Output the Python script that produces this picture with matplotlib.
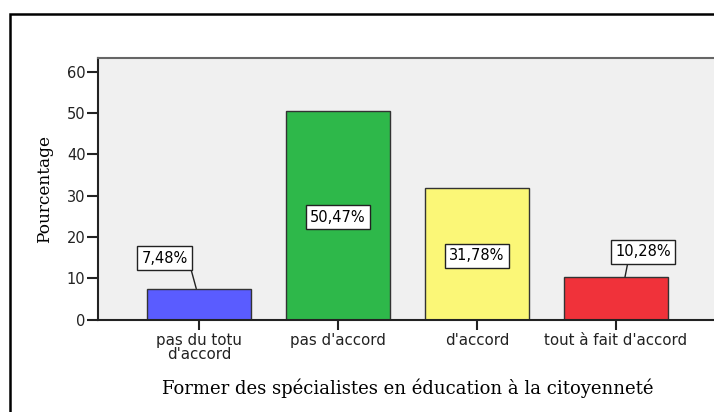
import matplotlib.pyplot as plt
from matplotlib.patches import Rectangle

categories = ["pas du totu\nd'accord", "pas d'accord", "d'accord", "tout à fait d'accord"]
values = [7.48, 50.47, 31.78, 10.28]
labels = ["7,48%", "50,47%", "31,78%", "10,28%"]
colors = ["#5a5cff", "#2eb84a", "#fbf777", "#f0323a"]

W, H = 714, 412
fig = plt.figure(figsize=(W / 100, H / 100), dpi=100)
fig.patch.set_facecolor("white")

# outer frame (runs off the right and bottom edges)
fig.patches.append(Rectangle((10 / W, -0.05), 1.2, (H - 14) / H + 0.05,
                             transform=fig.transFigure, fill=False,
                             edgecolor="black", linewidth=1.8))

# plot area: x 98..717 px, y 58..319.5 px
ax = fig.add_axes([98 / W, (H - 319.5) / H, (717 - 98) / W, (319.5 - 58.3) / H])
ax.set_facecolor("#f0f0f0")

x = list(range(len(values)))
ax.bar(x, values, width=0.75, color=colors, edgecolor="#333333", linewidth=1.0, zorder=2)

ax.set_xlim(-0.727, 3.727)
ax.set_ylim(0, 63.2)
ax.set_yticks([0, 10, 20, 30, 40, 50, 60])
ax.set_xticks(x)
ax.set_xticklabels(categories, family="DejaVu Sans", fontsize=10.8, linespacing=0.85)
for t in ax.get_yticklabels():
    t.set_family("DejaVu Sans")
    t.set_fontsize(10.5)
ax.tick_params(axis="y", length=8, width=1.5, pad=1, colors="#222222")
ax.tick_params(axis="x", length=7, width=1.5, pad=3, colors="#222222")

for s in ["left", "bottom"]:
    ax.spines[s].set_linewidth(1.5)
    ax.spines[s].set_color("#222222")
ax.spines["top"].set_color("#666666")
ax.spines["top"].set_linewidth(1.5)
ax.spines["right"].set_visible(False)

ax.set_ylabel("Pourcentage", family="DejaVu Serif", fontsize=12.2, labelpad=10)
ax.set_xlabel("Former des spécialistes en éducation à la citoyenneté",
              family="DejaVu Serif", fontsize=13, labelpad=12)

# value labels: inside boxes for tall bars, with a leader line for short ones
offsets = [(-0.245, 7.4, -0.02, 1.04), None, None, (0.194, 6.1, 0.065, 0.24)]
box = dict(boxstyle="square,pad=0.3", facecolor="white", edgecolor="#222222", linewidth=1.0)
for i, (v, lab) in enumerate(zip(values, labels)):
    if offsets[i] is None:
        ax.text(i, v / 2 - 0.45, lab, ha="center", va="center", fontsize=10.5,
                family="DejaVu Sans", bbox=box, zorder=4)
    else:
        dx, dy, px, rx = offsets[i]
        ax.annotate(lab, xy=(i + px, v), xytext=(i + dx, v + dy),
                    ha="center", va="center", fontsize=10.5, family="DejaVu Sans",
                    bbox=box, zorder=4,
                    arrowprops=dict(arrowstyle="-", color="#222222", linewidth=1.0,
                                    shrinkA=0, shrinkB=0, relpos=(rx, 0)))

fig.savefig("out.png", dpi=100)
